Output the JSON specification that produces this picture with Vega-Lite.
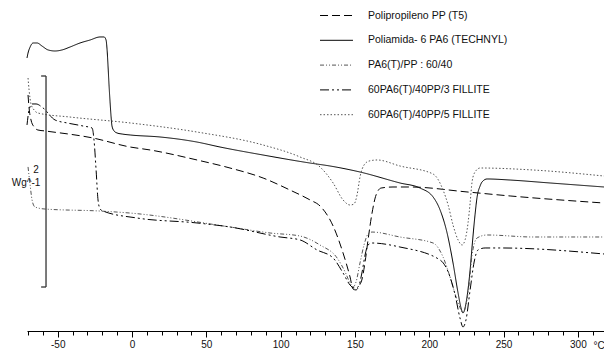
{
  "$schema": "https://vega.github.io/schema/vega-lite/v6.json",
  "width": 577,
  "height": 331,
  "autosize": "none",
  "padding": {"left": 27, "top": 0, "right": 0, "bottom": 19},
  "background": "white",
  "config": {
    "view": {"stroke": null},
    "font": "Liberation Sans",
    "legend": {
      "orient": "none",
      "legendX": 300,
      "legendY": 6,
      "title": null,
      "symbolType": "M-1.83,0H1.83",
      "symbolSize": 324,
      "symbolStrokeWidth": 1,
      "labelFontSize": 10.5,
      "labelColor": "#111",
      "labelOffset": 22,
      "rowPadding": 9.8,
      "labelLimit": 300
    }
  },
  "resolve": {"axis": {"x": "independent"}},
  "datasets": {
    "curves": [
      {"s": "Polipropileno PP (T5)", "t": -70.0, "w": 2.237},
      {"s": "Polipropileno PP (T5)", "t": -69.3, "w": 2.114},
      {"s": "Polipropileno PP (T5)", "t": -68.0, "w": 2.000},
      {"s": "Polipropileno PP (T5)", "t": -65.9, "w": 1.934},
      {"s": "Polipropileno PP (T5)", "t": -63.3, "w": 1.905},
      {"s": "Polipropileno PP (T5)", "t": -58.5, "w": 1.896},
      {"s": "Polipropileno PP (T5)", "t": -26.2, "w": 1.829},
      {"s": "Polipropileno PP (T5)", "t": -1.3, "w": 1.744},
      {"s": "Polipropileno PP (T5)", "t": 12.1, "w": 1.716},
      {"s": "Polipropileno PP (T5)", "t": 43.7, "w": 1.621},
      {"s": "Polipropileno PP (T5)", "t": 65.9, "w": 1.545},
      {"s": "Polipropileno PP (T5)", "t": 88.2, "w": 1.450},
      {"s": "Polipropileno PP (T5)", "t": 106.3, "w": 1.336},
      {"s": "Polipropileno PP (T5)", "t": 119.8, "w": 1.242},
      {"s": "Polipropileno PP (T5)", "t": 126.5, "w": 1.185},
      {"s": "Polipropileno PP (T5)", "t": 135.3, "w": 0.995},
      {"s": "Polipropileno PP (T5)", "t": 142.0, "w": 0.739},
      {"s": "Polipropileno PP (T5)", "t": 146.7, "w": 0.512},
      {"s": "Polipropileno PP (T5)", "t": 148.7, "w": 0.398},
      {"s": "Polipropileno PP (T5)", "t": 150.7, "w": 0.389},
      {"s": "Polipropileno PP (T5)", "t": 152.8, "w": 0.427},
      {"s": "Polipropileno PP (T5)", "t": 154.8, "w": 0.493},
      {"s": "Polipropileno PP (T5)", "t": 156.8, "w": 0.654},
      {"s": "Polipropileno PP (T5)", "t": 158.8, "w": 0.863},
      {"s": "Polipropileno PP (T5)", "t": 161.5, "w": 1.118},
      {"s": "Polipropileno PP (T5)", "t": 164.2, "w": 1.289},
      {"s": "Polipropileno PP (T5)", "t": 167.6, "w": 1.355},
      {"s": "Polipropileno PP (T5)", "t": 175.6, "w": 1.365},
      {"s": "Polipropileno PP (T5)", "t": 187.1, "w": 1.365},
      {"s": "Polipropileno PP (T5)", "t": 225.4, "w": 1.318},
      {"s": "Polipropileno PP (T5)", "t": 254.4, "w": 1.280},
      {"s": "Polipropileno PP (T5)", "t": 317.6, "w": 1.213},

      {"s": "Poliamida- 6 PA6 (TECHNYL)", "t": -70.7, "w": 2.588},
      {"s": "Poliamida- 6 PA6 (TECHNYL)", "t": -70.0, "w": 2.635},
      {"s": "Poliamida- 6 PA6 (TECHNYL)", "t": -68.6, "w": 2.692},
      {"s": "Poliamida- 6 PA6 (TECHNYL)", "t": -66.6, "w": 2.730},
      {"s": "Poliamida- 6 PA6 (TECHNYL)", "t": -63.9, "w": 2.730},
      {"s": "Poliamida- 6 PA6 (TECHNYL)", "t": -60.6, "w": 2.701},
      {"s": "Poliamida- 6 PA6 (TECHNYL)", "t": -56.5, "w": 2.664},
      {"s": "Poliamida- 6 PA6 (TECHNYL)", "t": -51.8, "w": 2.654},
      {"s": "Poliamida- 6 PA6 (TECHNYL)", "t": -47.1, "w": 2.664},
      {"s": "Poliamida- 6 PA6 (TECHNYL)", "t": -41.7, "w": 2.692},
      {"s": "Poliamida- 6 PA6 (TECHNYL)", "t": -35.0, "w": 2.730},
      {"s": "Poliamida- 6 PA6 (TECHNYL)", "t": -28.3, "w": 2.758},
      {"s": "Poliamida- 6 PA6 (TECHNYL)", "t": -21.5, "w": 2.787},
      {"s": "Poliamida- 6 PA6 (TECHNYL)", "t": -18.8, "w": 2.787},
      {"s": "Poliamida- 6 PA6 (TECHNYL)", "t": -17.5, "w": 2.758},
      {"s": "Poliamida- 6 PA6 (TECHNYL)", "t": -16.8, "w": 2.664},
      {"s": "Poliamida- 6 PA6 (TECHNYL)", "t": -16.2, "w": 2.521},
      {"s": "Poliamida- 6 PA6 (TECHNYL)", "t": -15.5, "w": 2.332},
      {"s": "Poliamida- 6 PA6 (TECHNYL)", "t": -14.8, "w": 2.171},
      {"s": "Poliamida- 6 PA6 (TECHNYL)", "t": -14.1, "w": 2.028},
      {"s": "Poliamida- 6 PA6 (TECHNYL)", "t": -13.5, "w": 1.943},
      {"s": "Poliamida- 6 PA6 (TECHNYL)", "t": -12.1, "w": 1.896},
      {"s": "Poliamida- 6 PA6 (TECHNYL)", "t": -10.1, "w": 1.877},
      {"s": "Poliamida- 6 PA6 (TECHNYL)", "t": -6.7, "w": 1.867},
      {"s": "Poliamida- 6 PA6 (TECHNYL)", "t": -1.3, "w": 1.858},
      {"s": "Poliamida- 6 PA6 (TECHNYL)", "t": 18.8, "w": 1.839},
      {"s": "Poliamida- 6 PA6 (TECHNYL)", "t": 43.7, "w": 1.791},
      {"s": "Poliamida- 6 PA6 (TECHNYL)", "t": 59.2, "w": 1.744},
      {"s": "Poliamida- 6 PA6 (TECHNYL)", "t": 88.2, "w": 1.668},
      {"s": "Poliamida- 6 PA6 (TECHNYL)", "t": 119.8, "w": 1.592},
      {"s": "Poliamida- 6 PA6 (TECHNYL)", "t": 133.2, "w": 1.564},
      {"s": "Poliamida- 6 PA6 (TECHNYL)", "t": 153.4, "w": 1.507},
      {"s": "Poliamida- 6 PA6 (TECHNYL)", "t": 180.3, "w": 1.403},
      {"s": "Poliamida- 6 PA6 (TECHNYL)", "t": 193.8, "w": 1.355},
      {"s": "Poliamida- 6 PA6 (TECHNYL)", "t": 202.6, "w": 1.270},
      {"s": "Poliamida- 6 PA6 (TECHNYL)", "t": 207.3, "w": 1.147},
      {"s": "Poliamida- 6 PA6 (TECHNYL)", "t": 212.0, "w": 0.929},
      {"s": "Poliamida- 6 PA6 (TECHNYL)", "t": 216.0, "w": 0.645},
      {"s": "Poliamida- 6 PA6 (TECHNYL)", "t": 219.4, "w": 0.360},
      {"s": "Poliamida- 6 PA6 (TECHNYL)", "t": 221.4, "w": 0.218},
      {"s": "Poliamida- 6 PA6 (TECHNYL)", "t": 222.7, "w": 0.171},
      {"s": "Poliamida- 6 PA6 (TECHNYL)", "t": 224.1, "w": 0.218},
      {"s": "Poliamida- 6 PA6 (TECHNYL)", "t": 225.4, "w": 0.322},
      {"s": "Poliamida- 6 PA6 (TECHNYL)", "t": 227.5, "w": 0.578},
      {"s": "Poliamida- 6 PA6 (TECHNYL)", "t": 228.8, "w": 0.796},
      {"s": "Poliamida- 6 PA6 (TECHNYL)", "t": 230.8, "w": 1.100},
      {"s": "Poliamida- 6 PA6 (TECHNYL)", "t": 232.2, "w": 1.270},
      {"s": "Poliamida- 6 PA6 (TECHNYL)", "t": 234.2, "w": 1.374},
      {"s": "Poliamida- 6 PA6 (TECHNYL)", "t": 235.5, "w": 1.412},
      {"s": "Poliamida- 6 PA6 (TECHNYL)", "t": 238.9, "w": 1.441},
      {"s": "Poliamida- 6 PA6 (TECHNYL)", "t": 254.4, "w": 1.431},
      {"s": "Poliamida- 6 PA6 (TECHNYL)", "t": 281.3, "w": 1.403},
      {"s": "Poliamida- 6 PA6 (TECHNYL)", "t": 317.6, "w": 1.365},

      {"s": "PA6(T)/PP : 60/40", "t": -70.0, "w": 1.555},
      {"s": "PA6(T)/PP : 60/40", "t": -68.6, "w": 1.384},
      {"s": "PA6(T)/PP : 60/40", "t": -67.3, "w": 1.242},
      {"s": "PA6(T)/PP : 60/40", "t": -65.3, "w": 1.175},
      {"s": "PA6(T)/PP : 60/40", "t": -58.5, "w": 1.156},
      {"s": "PA6(T)/PP : 60/40", "t": -21.5, "w": 1.137},
      {"s": "PA6(T)/PP : 60/40", "t": -1.3, "w": 1.118},
      {"s": "PA6(T)/PP : 60/40", "t": 65.9, "w": 0.986},
      {"s": "PA6(T)/PP : 60/40", "t": 92.9, "w": 0.929},
      {"s": "PA6(T)/PP : 60/40", "t": 113.1, "w": 0.900},
      {"s": "PA6(T)/PP : 60/40", "t": 126.5, "w": 0.815},
      {"s": "PA6(T)/PP : 60/40", "t": 138.0, "w": 0.692},
      {"s": "PA6(T)/PP : 60/40", "t": 143.4, "w": 0.559},
      {"s": "PA6(T)/PP : 60/40", "t": 146.7, "w": 0.455},
      {"s": "PA6(T)/PP : 60/40", "t": 148.7, "w": 0.417},
      {"s": "PA6(T)/PP : 60/40", "t": 150.7, "w": 0.464},
      {"s": "PA6(T)/PP : 60/40", "t": 153.4, "w": 0.645},
      {"s": "PA6(T)/PP : 60/40", "t": 156.1, "w": 0.815},
      {"s": "PA6(T)/PP : 60/40", "t": 158.8, "w": 0.919},
      {"s": "PA6(T)/PP : 60/40", "t": 161.5, "w": 0.938},
      {"s": "PA6(T)/PP : 60/40", "t": 180.3, "w": 0.891},
      {"s": "PA6(T)/PP : 60/40", "t": 202.6, "w": 0.834},
      {"s": "PA6(T)/PP : 60/40", "t": 209.3, "w": 0.701},
      {"s": "PA6(T)/PP : 60/40", "t": 214.0, "w": 0.512},
      {"s": "PA6(T)/PP : 60/40", "t": 218.7, "w": 0.294},
      {"s": "PA6(T)/PP : 60/40", "t": 221.4, "w": 0.199},
      {"s": "PA6(T)/PP : 60/40", "t": 222.7, "w": 0.171},
      {"s": "PA6(T)/PP : 60/40", "t": 224.7, "w": 0.246},
      {"s": "PA6(T)/PP : 60/40", "t": 226.8, "w": 0.436},
      {"s": "PA6(T)/PP : 60/40", "t": 228.8, "w": 0.720},
      {"s": "PA6(T)/PP : 60/40", "t": 232.2, "w": 0.882},
      {"s": "PA6(T)/PP : 60/40", "t": 238.9, "w": 0.910},
      {"s": "PA6(T)/PP : 60/40", "t": 269.9, "w": 0.891},
      {"s": "PA6(T)/PP : 60/40", "t": 317.6, "w": 0.891},

      {"s": "60PA6(T)/40PP/3 FILLITE", "t": -70.7, "w": 1.953},
      {"s": "60PA6(T)/40PP/3 FILLITE", "t": -69.3, "w": 2.095},
      {"s": "60PA6(T)/40PP/3 FILLITE", "t": -67.3, "w": 2.152},
      {"s": "60PA6(T)/40PP/3 FILLITE", "t": -64.6, "w": 2.152},
      {"s": "60PA6(T)/40PP/3 FILLITE", "t": -59.9, "w": 2.114},
      {"s": "60PA6(T)/40PP/3 FILLITE", "t": -51.8, "w": 2.000},
      {"s": "60PA6(T)/40PP/3 FILLITE", "t": -43.7, "w": 1.972},
      {"s": "60PA6(T)/40PP/3 FILLITE", "t": -33.0, "w": 1.943},
      {"s": "60PA6(T)/40PP/3 FILLITE", "t": -26.9, "w": 1.924},
      {"s": "60PA6(T)/40PP/3 FILLITE", "t": -25.6, "w": 1.810},
      {"s": "60PA6(T)/40PP/3 FILLITE", "t": -24.2, "w": 1.526},
      {"s": "60PA6(T)/40PP/3 FILLITE", "t": -22.9, "w": 1.242},
      {"s": "60PA6(T)/40PP/3 FILLITE", "t": -21.5, "w": 1.156},
      {"s": "60PA6(T)/40PP/3 FILLITE", "t": -19.5, "w": 1.137},
      {"s": "60PA6(T)/40PP/3 FILLITE", "t": 3.4, "w": 1.071},
      {"s": "60PA6(T)/40PP/3 FILLITE", "t": 43.7, "w": 1.024},
      {"s": "60PA6(T)/40PP/3 FILLITE", "t": 65.9, "w": 0.986},
      {"s": "60PA6(T)/40PP/3 FILLITE", "t": 99.6, "w": 0.891},
      {"s": "60PA6(T)/40PP/3 FILLITE", "t": 113.1, "w": 0.863},
      {"s": "60PA6(T)/40PP/3 FILLITE", "t": 124.5, "w": 0.768},
      {"s": "60PA6(T)/40PP/3 FILLITE", "t": 135.3, "w": 0.692},
      {"s": "60PA6(T)/40PP/3 FILLITE", "t": 142.0, "w": 0.550},
      {"s": "60PA6(T)/40PP/3 FILLITE", "t": 146.7, "w": 0.436},
      {"s": "60PA6(T)/40PP/3 FILLITE", "t": 149.4, "w": 0.408},
      {"s": "60PA6(T)/40PP/3 FILLITE", "t": 152.1, "w": 0.417},
      {"s": "60PA6(T)/40PP/3 FILLITE", "t": 154.8, "w": 0.559},
      {"s": "60PA6(T)/40PP/3 FILLITE", "t": 156.8, "w": 0.720},
      {"s": "60PA6(T)/40PP/3 FILLITE", "t": 158.8, "w": 0.815},
      {"s": "60PA6(T)/40PP/3 FILLITE", "t": 161.5, "w": 0.834},
      {"s": "60PA6(T)/40PP/3 FILLITE", "t": 180.3, "w": 0.796},
      {"s": "60PA6(T)/40PP/3 FILLITE", "t": 207.3, "w": 0.673},
      {"s": "60PA6(T)/40PP/3 FILLITE", "t": 214.0, "w": 0.512},
      {"s": "60PA6(T)/40PP/3 FILLITE", "t": 217.4, "w": 0.341},
      {"s": "60PA6(T)/40PP/3 FILLITE", "t": 220.7, "w": 0.123},
      {"s": "60PA6(T)/40PP/3 FILLITE", "t": 222.7, "w": 0.038},
      {"s": "60PA6(T)/40PP/3 FILLITE", "t": 224.7, "w": 0.104},
      {"s": "60PA6(T)/40PP/3 FILLITE", "t": 227.5, "w": 0.389},
      {"s": "60PA6(T)/40PP/3 FILLITE", "t": 230.2, "w": 0.654},
      {"s": "60PA6(T)/40PP/3 FILLITE", "t": 232.8, "w": 0.768},
      {"s": "60PA6(T)/40PP/3 FILLITE", "t": 237.6, "w": 0.787},
      {"s": "60PA6(T)/40PP/3 FILLITE", "t": 247.6, "w": 0.787},
      {"s": "60PA6(T)/40PP/3 FILLITE", "t": 317.6, "w": 0.730},

      {"s": "60PA6(T)/40PP/5 FILLITE", "t": -70.0, "w": 2.398},
      {"s": "60PA6(T)/40PP/5 FILLITE", "t": -69.3, "w": 2.284},
      {"s": "60PA6(T)/40PP/5 FILLITE", "t": -68.0, "w": 2.152},
      {"s": "60PA6(T)/40PP/5 FILLITE", "t": -65.9, "w": 2.095},
      {"s": "60PA6(T)/40PP/5 FILLITE", "t": -63.3, "w": 2.066},
      {"s": "60PA6(T)/40PP/5 FILLITE", "t": -41.7, "w": 2.028},
      {"s": "60PA6(T)/40PP/5 FILLITE", "t": -1.3, "w": 1.972},
      {"s": "60PA6(T)/40PP/5 FILLITE", "t": 43.7, "w": 1.886},
      {"s": "60PA6(T)/40PP/5 FILLITE", "t": 88.2, "w": 1.763},
      {"s": "60PA6(T)/40PP/5 FILLITE", "t": 113.1, "w": 1.649},
      {"s": "60PA6(T)/40PP/5 FILLITE", "t": 126.5, "w": 1.555},
      {"s": "60PA6(T)/40PP/5 FILLITE", "t": 135.3, "w": 1.403},
      {"s": "60PA6(T)/40PP/5 FILLITE", "t": 142.0, "w": 1.242},
      {"s": "60PA6(T)/40PP/5 FILLITE", "t": 146.7, "w": 1.194},
      {"s": "60PA6(T)/40PP/5 FILLITE", "t": 149.4, "w": 1.204},
      {"s": "60PA6(T)/40PP/5 FILLITE", "t": 151.4, "w": 1.289},
      {"s": "60PA6(T)/40PP/5 FILLITE", "t": 153.4, "w": 1.460},
      {"s": "60PA6(T)/40PP/5 FILLITE", "t": 156.1, "w": 1.573},
      {"s": "60PA6(T)/40PP/5 FILLITE", "t": 159.5, "w": 1.611},
      {"s": "60PA6(T)/40PP/5 FILLITE", "t": 164.9, "w": 1.621},
      {"s": "60PA6(T)/40PP/5 FILLITE", "t": 180.3, "w": 1.564},
      {"s": "60PA6(T)/40PP/5 FILLITE", "t": 202.6, "w": 1.488},
      {"s": "60PA6(T)/40PP/5 FILLITE", "t": 209.3, "w": 1.336},
      {"s": "60PA6(T)/40PP/5 FILLITE", "t": 212.7, "w": 1.194},
      {"s": "60PA6(T)/40PP/5 FILLITE", "t": 216.0, "w": 1.005},
      {"s": "60PA6(T)/40PP/5 FILLITE", "t": 219.4, "w": 0.863},
      {"s": "60PA6(T)/40PP/5 FILLITE", "t": 222.1, "w": 0.815},
      {"s": "60PA6(T)/40PP/5 FILLITE", "t": 224.1, "w": 0.863},
      {"s": "60PA6(T)/40PP/5 FILLITE", "t": 226.1, "w": 1.024},
      {"s": "60PA6(T)/40PP/5 FILLITE", "t": 227.5, "w": 1.213},
      {"s": "60PA6(T)/40PP/5 FILLITE", "t": 228.8, "w": 1.412},
      {"s": "60PA6(T)/40PP/5 FILLITE", "t": 230.8, "w": 1.507},
      {"s": "60PA6(T)/40PP/5 FILLITE", "t": 234.2, "w": 1.545},
      {"s": "60PA6(T)/40PP/5 FILLITE", "t": 269.9, "w": 1.526},
      {"s": "60PA6(T)/40PP/5 FILLITE", "t": 317.6, "w": 1.469}
    ],
    "bar": [
      {"t": -57.9, "t2": -57.9, "w": 2.417, "w2": 0.417},
      {"t": -61.2, "t2": -57.9, "w": 2.417, "w2": 2.417},
      {"t": -61.2, "t2": -57.9, "w": 0.417, "w2": 0.417}
    ],
    "barlabels": [
      {"t": -64.6, "w": 1.526, "txt": "2"},
      {"t": -71.3, "w": 1.403, "txt": "Wg^-1"}
    ]
  },
  "layer": [
    {
      "data": {"name": "curves"},
      "mark": {"type": "line", "strokeWidth": 1, "interpolate": "monotone"},
      "encoding": {
        "x": {
          "field": "t",
          "type": "quantitative",
          "scale": {"domain": [-70.7, 317.6], "nice": false, "zero": false},
          "axis": {
            "orient": "bottom",
            "values": [-50, 0, 50, 100, 150, 200, 250, 300],
            "format": "d",
            "labelExpr": "'' + datum.value",
            "tickSize": 6,
            "tickColor": "#000",
            "domainColor": "#000",
            "grid": false,
            "labelFontSize": 10,
            "labelColor": "#111",
            "labelPadding": 2,
            "labelFlush": false,
            "labelOverlap": false,
            "title": "°C",
            "titleFontSize": 10,
            "titleFontWeight": "normal",
            "titleColor": "#111",
            "titleX": 566,
            "titleY": 9,
            "titleAlign": "left",
            "titleBaseline": "top",
            "titleAngle": 0
          }
        },
        "y": {
          "field": "w",
          "type": "quantitative",
          "scale": {"domain": [0, 3.1374], "nice": false, "zero": false},
          "axis": null
        },
        "strokeDash": {
          "field": "s",
          "type": "nominal",
          "scale": {
            "domain": ["Polipropileno PP (T5)", "Poliamida- 6 PA6 (TECHNYL)", "PA6(T)/PP : 60/40", "60PA6(T)/40PP/3 FILLITE", "60PA6(T)/40PP/5 FILLITE"],
            "range": [[8, 4], [1, 0], [4, 2, 1, 2, 1, 2], [9, 3, 2, 3, 2, 3], [1.5, 2]]
          }
        },
        "color": {
          "field": "s",
          "type": "nominal",
          "scale": {
            "domain": ["Polipropileno PP (T5)", "Poliamida- 6 PA6 (TECHNYL)", "PA6(T)/PP : 60/40", "60PA6(T)/40PP/3 FILLITE", "60PA6(T)/40PP/5 FILLITE"],
            "range": ["#000000", "#000000", "#555555", "#000000", "#555555"]
          }
        }
      }
    },
    {
      "data": {"name": "bar"},
      "mark": {"type": "rule", "color": "#333", "strokeWidth": 1.3},
      "encoding": {
        "x": {
          "field": "t",
          "type": "quantitative",
          "axis": {
            "orient": "bottom",
            "values": [-70,-60,-40,-30,-20,-10,10,20,30,40,60,70,80,90,110,120,130,140,160,170,180,190,210,220,230,240,260,270,280,290,310],
            "labels": false,
            "domain": false,
            "tickSize": 4,
            "tickColor": "#000",
            "grid": false,
            "title": null
          }
        },
        "x2": {"field": "t2"},
        "y": {"field": "w", "type": "quantitative", "axis": null},
        "y2": {"field": "w2"}
      }
    },
    {
      "data": {"name": "barlabels"},
      "mark": {"type": "text", "fontSize": 10, "color": "#111", "align": "center", "baseline": "middle"},
      "encoding": {
        "x": {"field": "t", "type": "quantitative", "axis": null},
        "y": {"field": "w", "type": "quantitative", "axis": null},
        "text": {"field": "txt"}
      }
    }
  ]
}
